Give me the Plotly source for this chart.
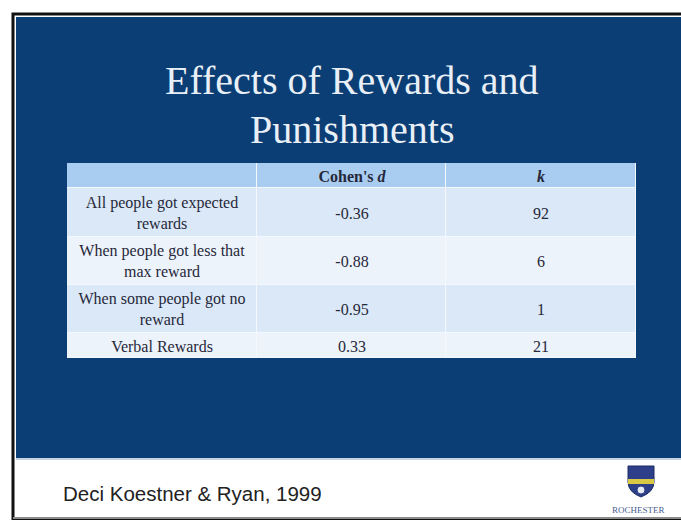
import plotly.graph_objects as go

W, H = 681, 520

# ---- data ----
title_lines = ["Effects of Rewards and", "Punishments"]
col_headers = ["", "<b>Cohen's <i>d</i></b>", "<b><i>k</i></b>"]
conditions = [
    "All people got expected<br>rewards",
    "When people got less that<br>max reward",
    "When some people got no<br>reward",
    "Verbal Rewards",
]
cohens_d = ["-0.36", "-0.88", "-0.95", "0.33"]
k_values = ["92", "6", "1", "21"]
citation = "Deci Koestner & Ryan, 1999"

# ---- styling ----
row_heights = [25, 49, 48, 48, 25]          # header + 4 body rows (px)
fill_codes = [0, 1, 2, 1, 2]                 # header / odd / even row fill
fill_scale = [[0.0, "#a9ccf1"], [0.5, "#dbe8f7"], [1.0, "#edf3fb"]]
BLUE = "#0b3e75"
GRID = "#f4f8fd"


def px(x):
    return x / W


def py(y):
    return 1 - y / H


# build table matrices from the data lists
rows_text = [col_headers] + [[c, d, k] for c, d, k in zip(conditions, cohens_d, k_values)]
z = [[code] * 3 for code in fill_codes]
y_edges = [0]
for h in row_heights:
    y_edges.append(y_edges[-1] + h)

fig = go.Figure()
fig.add_trace(go.Heatmap(
    z=z,
    x=[0, 1, 2],
    y=y_edges,
    text=rows_text,
    texttemplate="%{text}",
    textfont=dict(family="Liberation Serif", size=16, color="#26283a"),
    colorscale=fill_scale,
    zmin=0, zmax=2,
    showscale=False,
    xgap=1, ygap=1,
    hoverinfo="skip",
))

table_top, table_left, table_right = 163, 67, 636
table_bottom = table_top + y_edges[-1]

fig.update_xaxes(domain=[px(table_left), px(table_right)], range=[-0.5, 2.5],
                 visible=False, fixedrange=True)
fig.update_yaxes(domain=[py(table_bottom), py(table_top)], range=[y_edges[-1], 0],
                 visible=False, fixedrange=True)

shapes = []
# black frame + white page
shapes.append(dict(type="rect", xref="paper", yref="paper",
                   x0=px(13), x1=px(690), y0=py(519), y1=py(14),
                   line=dict(color="#111111", width=3), fillcolor="white", layer="below"))
# blue slide area
shapes.append(dict(type="rect", xref="paper", yref="paper",
                   x0=px(16), x1=px(690), y0=py(458), y1=py(17),
                   line=dict(width=0), fillcolor=BLUE, layer="below"))
# light backing behind the table (shows through the cell gaps)
shapes.append(dict(type="rect", xref="paper", yref="paper",
                   x0=px(table_left), x1=px(table_right),
                   y0=py(table_bottom), y1=py(table_top),
                   line=dict(width=0), fillcolor=GRID, layer="below"))
# light line under blue
shapes.append(dict(type="line", xref="paper", yref="paper",
                   x0=px(16), x1=px(690), y0=py(459), y1=py(459),
                   line=dict(color="#8fa6c2", width=1)))
# bottom gray line
shapes.append(dict(type="line", xref="paper", yref="paper",
                   x0=px(13), x1=px(690), y0=py(518), y1=py(518),
                   line=dict(color="#8a8a8a", width=2)))


def P(x, y):
    return f"{px(x)},{py(y)}"


# logo shield
shield = (f"M {P(628,466)} L {P(654,466)} L {P(654,482)} Q {P(654,492)} {P(641,497)} "
          f"Q {P(628,492)} {P(628,482)} Z")
shapes.append(dict(type="path", xref="paper", yref="paper", path=shield,
                   fillcolor="#2d3f88", line=dict(color="#1d2b66", width=1)))
shapes.append(dict(type="rect", xref="paper", yref="paper",
                   x0=px(628), x1=px(654), y0=py(484), y1=py(479),
                   fillcolor="#d9c843", line=dict(width=0)))
shapes.append(dict(type="circle", xref="paper", yref="paper",
                   x0=px(637), x1=px(645), y0=py(494), y1=py(486),
                   fillcolor="#e8ecf5", line=dict(color="#2d3f88", width=1)))

annotations = [
    dict(text=title_lines[0], x=px(352), y=py(80), xref="paper", yref="paper",
         showarrow=False, xanchor="center", yanchor="middle",
         font=dict(family="Liberation Serif", size=40, color="#e9eff6")),
    dict(text=title_lines[1], x=px(352), y=py(129), xref="paper", yref="paper",
         showarrow=False, xanchor="center", yanchor="middle",
         font=dict(family="Liberation Serif", size=40, color="#e9eff6")),
    dict(text=citation, x=px(61), y=py(493), xref="paper", yref="paper",
         showarrow=False, xanchor="left", yanchor="middle",
         font=dict(family="Liberation Sans", size=20.5, color="#222222")),
    dict(text="ROCHESTER", x=px(638), y=py(510), xref="paper", yref="paper",
         showarrow=False, xanchor="center", yanchor="middle",
         font=dict(family="Liberation Serif", size=9, color="#4a6090")),
]

fig.update_layout(
    width=W, height=H,
    margin=dict(l=0, r=0, t=0, b=0),
    paper_bgcolor="white",
    plot_bgcolor=GRID,
    shapes=shapes,
    annotations=annotations,
    showlegend=False,
)

fig.write_html("out.html", config={"displayModeBar": False},
               post_script="document.body.style.margin='0';")
